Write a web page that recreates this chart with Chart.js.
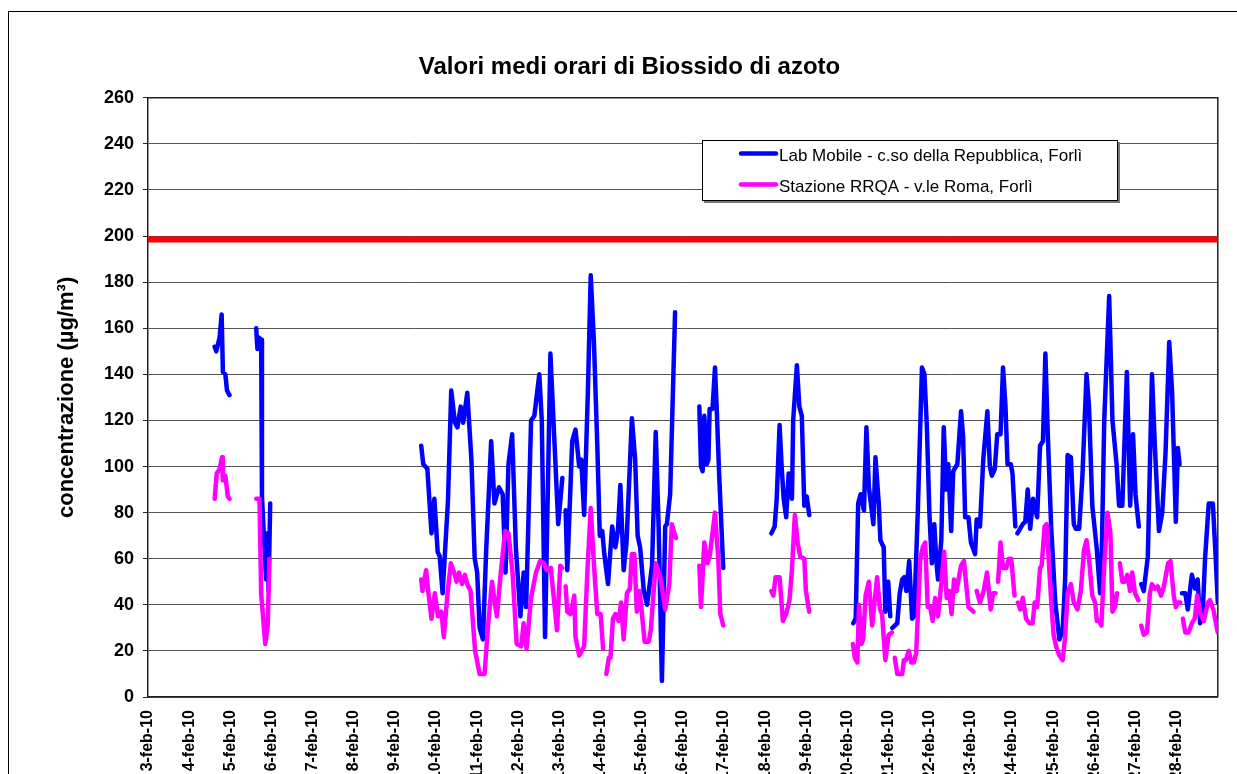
<!DOCTYPE html>
<html lang="it">
<head>
  <meta charset="UTF-8">
  <title>Valori medi orari di Biossido di azoto</title>
  <script src="https://cdn.jsdelivr.net/npm/chart.js"></script>
  <style>
    html, body { margin: 0; padding: 0; overflow: hidden; background: #fff; }
    #cornice {
      position: absolute; left: 8px; top: 11px;
      width: 1241px; height: 790px;
      border: 1px solid #000; background: #fff;
    }
  </style>
</head>
<body>

<div id="cornice">
  <canvas id="grafico"></canvas>
</div>

<script>
// etichette asse x (un giorno per tacca, giorno 0 = 3-feb-10)
const etichetteGiorni = [
  "3-feb-10", "4-feb-10", "5-feb-10", "6-feb-10", "7-feb-10", "8-feb-10", "9-feb-10",
  "10-feb-10", "11-feb-10", "12-feb-10", "13-feb-10", "14-feb-10", "15-feb-10", "16-feb-10",
  "17-feb-10", "18-feb-10", "19-feb-10", "20-feb-10", "21-feb-10", "22-feb-10", "23-feb-10",
  "24-feb-10", "25-feb-10", "26-feb-10", "27-feb-10", "28-feb-10"
];

// Lab Mobile - c.so della Repubblica (null = dato mancante)
const labGiorni = [
  1.62, 1.66, 1.74, 1.79, 1.82, 1.88, 1.92, 1.98, null,
  2.63, 2.66, 2.69, 2.75, 2.77, 2.87, 2.91, 2.93, 2.97, null,
  6.64, 6.69, 6.79, 6.89, 6.96, 7.04, 7.09, 7.16, 7.29, 7.37, 7.46, 7.52, 7.60, 7.66, 7.76, 7.86, 7.94, 8.00, 8.06, 8.14,
  8.22, 8.34, 8.42, 8.53, 8.62, 8.69, 8.76, 8.85, 8.94, 9.05, 9.13, 9.19, 9.31, 9.39, 9.51, 9.57, 9.65, 9.78, 9.87, 9.97, 10.07, null,
  10.15, 10.19, 10.31, 10.39, 10.48, 10.53, 10.60, 10.69, 10.76, 10.84, 10.92, 10.98, 11.04, 11.09, 11.18, 11.28, 11.36, 11.42,
  11.48, 11.56, 11.63, 11.76, 11.84, 11.90, 11.96, 12.05, 12.13, 12.25, 12.34, 12.41, 12.49, 12.57, 12.61, 12.69, 12.81, null,
  13.40, 13.44, 13.48, 13.52, 13.58, 13.62, 13.65, 13.72, 13.78, 13.82, 13.88, 13.98, null,
  15.15, 15.23, 15.28, 15.35, 15.40, 15.45, 15.51, 15.57, 15.65, 15.68, 15.77, 15.83, 15.89, 15.95, 16.01, 16.07, null,
  17.14, 17.20, 17.26, 17.32, 17.40, 17.46, 17.52, 17.63, 17.68, 17.76, 17.80, 17.88, 17.92, 17.99, 18.04, null,
  18.09, 18.21, 18.27, 18.33, 18.38, 18.43, 18.50, 18.57, 18.62, 18.71, 18.81, 18.87, 18.93, 18.99, 19.05, 19.11, 19.16, 19.20,
  19.28, 19.34, 19.40, 19.45, 19.52, 19.57, 19.67, 19.76, 19.81, 19.86, 19.94, 20.00, 20.10, 20.14, 20.22, 20.30, 20.40, 20.46,
  20.51, 20.58, 20.64, 20.72, 20.78, 20.84, 20.89, 20.97, 21.01, 21.08, null,
  21.13, 21.26, 21.32, 21.38, 21.44, 21.51, 21.61, 21.68, 21.75, 21.81, 21.87, 21.95, 22.05, 22.15, 22.23, 22.29, 22.35, 22.43,
  22.50, 22.55, 22.63, 22.71, 22.81, 22.87, 22.95, 23.02, 23.06, 23.14, 23.17, 23.24, 23.36, 23.44, 23.54, 23.60, 23.68, 23.79,
  23.87, 23.94, 24.00, 24.08, null,
  24.14, 24.20, 24.30, 24.40, 24.47, 24.57, 24.65, 24.73, 24.82, 24.89, 24.98, 25.03, 25.07, null,
  25.13, 25.21, 25.27, 25.37, 25.45, 25.51, 25.57, 25.63, 25.69, 25.78, 25.88, 25.95, 26.00
];
const labValori = [
  152, 150, 156, 166, 141, 140, 133, 131, null,
  160, 151, 156, 155, 87, 51, 71, 46, 84, null,
  109, 101, 99, 71, 86, 63, 61, 45, 85, 133, 119, 117, 126, 119, 132, 103, 60, 54, 30, 25,
  64, 111, 84, 91, 88, 54, 101, 114, 65, 35, 54, 39, 120, 122, 140, 120, 26, 149, 114, 75, 95, null,
  81, 55, 111, 116, 100, 103, 79, 132, 183, 153, 109, 70, 72, 62, 49, 74, 65, 72,
  92, 55, 67, 121, 103, 70, 65, 46, 40, 57, 115, 74, 7, 74, 75, 88, 167, null,
  126, 100, 98, 122, 101, 103, 125, 125, 143, 126, 97, 56, null,
  71, 74, 86, 118, 100, 86, 78, 97, 86, 120, 144, 126, 122, 83, 87, 79, null,
  32, 34, 84, 88, 81, 117, 91, 75, 104, 84, 68, 65, 37, 50, 35, null,
  30, 32, 45, 51, 52, 46, 59, 34, 35, 81, 143, 140, 117, 80, 58, 75, 59, 51,
  68, 117, 90, 101, 72, 98, 101, 124, 113, 78, 78, 67, 62, 77, 74, 103, 124, 100,
  96, 99, 114, 114, 143, 126, 101, 101, 97, 74, null,
  71, 75, 76, 90, 73, 86, 78, 109, 111, 149, 113, 74, 41, 25, 29, 51, 105, 104,
  75, 73, 73, 96, 140, 126, 83, 71, 64, 45, 52, 120, 174, 120, 101, 83, 83, 141,
  83, 114, 88, 74, null,
  49, 46, 61, 140, 109, 72, 80, 106, 154, 132, 76, 108, 101, null,
  45, 45, 38, 53, 47, 51, 32, 35, 60, 84, 84, 60, 41
];

// Stazione RRQA - v.le Roma
const rrqaGiorni = [
  1.62, 1.67, 1.74, 1.80, 1.82, 1.88, 1.94, 1.98, null,
  2.63, 2.71, 2.75, 2.85, 2.91, 2.95, null,
  6.64, 6.67, 6.76, 6.81, 6.89, 6.97, 7.05, 7.13, 7.19, 7.28, 7.36, 7.44, 7.50, 7.56, 7.63, 7.70, 7.76, 7.84, 7.95, 8.06,
  8.18, 8.26, 8.36, 8.42, 8.48, 8.58, 8.68, 8.76, 8.86, 8.96, 9.07, 9.13, 9.20, 9.31, 9.43, 9.53, 9.63, 9.69, 9.79, 9.94,
  10.02, 10.07, null,
  10.15, 10.19, 10.27, 10.36, 10.39, 10.48, 10.60, 10.68, 10.76, 10.84, 10.92, 11.00, 11.06, null,
  11.14, 11.20, 11.24, 11.30, 11.36, 11.44, 11.50, 11.56, 11.64, 11.71, 11.76, 11.82, 11.88, 11.95, 12.07, 12.17, 12.22, 12.34,
  12.45, 12.57, 12.67, 12.73, 12.83, null,
  13.40, 13.44, 13.52, 13.60, 13.65, 13.78, 13.86, 13.91, 13.98, null,
  15.15, 15.20, 15.25, 15.35, 15.43, 15.51, 15.59, 15.65, 15.72, 15.79, 15.85, 15.95, 15.99, 16.07, null,
  17.13, 17.18, 17.24, 17.28, 17.34, 17.38, 17.44, 17.52, 17.60, 17.72, 17.79, 17.84, 17.92, 18.00, 18.08, null,
  18.15, 18.21, 18.33, 18.37, 18.42, 18.49, 18.55, 18.61, 18.67, 18.77, 18.83, 18.89, 18.95, 19.01, 19.07, 19.13, 19.20, 19.28,
  19.35, 19.41, 19.47, 19.53, 19.59, 19.65, 19.76, 19.83, 19.94, 20.00, 20.06, null,
  20.14, 20.22, 20.31, 20.39, 20.48, 20.54, 20.60, null,
  20.66, 20.72, 20.78, 20.86, 20.92, 20.98, 21.06, null,
  21.14, 21.20, 21.26, 21.34, 21.42, 21.50, 21.55, 21.61, 21.68, 21.72, 21.79, 21.84, 21.91, 21.96, 22.01, 22.07, 22.15, 22.23,
  22.29, 22.35, 22.43, 22.50, 22.59, 22.67, 22.75, 22.81, 22.87, 22.95, 23.02, 23.06, 23.12, 23.17, 23.24, 23.32, 23.39, 23.44,
  23.50, 23.55, null,
  23.62, 23.68, 23.74, 23.80, 23.87, 23.92, 23.99, 24.07, null,
  24.14, 24.20, 24.28, 24.35, 24.40, 24.47, 24.54, 24.62, 24.69, 24.79, 24.85, 24.93, 24.98, 25.03, 25.09, null,
  25.15, 25.21, 25.29, 25.37, 25.44, 25.50, 25.58, 25.66, 25.76, 25.81, 25.89, 26.00
];
const rrqaValori = [
  86, 97, 99, 104, 94, 96, 87, 86, null,
  86, 86, 45, 23, 31, 60, null,
  51, 46, 55, 46, 34, 45, 35, 37, 26, 45, 58, 54, 50, 54, 49, 53, 49, 46, 20, 10,
  10, 30, 50, 42, 35, 55, 72, 71, 54, 23, 22, 32, 21, 43, 54, 59, 58, 55, 56, 29,
  57, 56, null,
  48, 37, 36, 44, 26, 18, 22, 55, 82, 57, 36, 36, 21, null,
  10, 17, 17, 34, 36, 33, 41, 25, 45, 47, 62, 62, 37, 46, 24, 24, 29, 58,
  52, 38, 49, 75, 69, null,
  57, 39, 67, 58, 61, 80, 60, 36, 31, null,
  46, 44, 52, 52, 33, 36, 42, 55, 79, 67, 61, 60, 46, 37, null,
  23, 17, 15, 40, 23, 25, 44, 50, 31, 52, 38, 36, 16, 27, 28, null,
  17, 10, 10, 16, 16, 20, 15, 15, 19, 60, 65, 67, 39, 39, 33, 43, 35, 49,
  63, 43, 46, 36, 51, 46, 57, 59, 39, 38, 37, null,
  46, 41, 46, 54, 38, 45, 45, null,
  50, 67, 56, 56, 60, 60, 44, null,
  41, 38, 43, 34, 32, 32, 41, 39, 56, 57, 74, 75, 54, 39, 27, 22, 18, 16,
  26, 45, 49, 41, 38, 46, 64, 68, 60, 44, 41, 33, 33, 31, 57, 80, 71, 37,
  39, 45, null,
  58, 50, 50, 53, 46, 54, 45, 42, null,
  31, 27, 28, 45, 49, 47, 48, 44, 48, 58, 59, 44, 39, 41, 41, null,
  34, 28, 28, 32, 34, 44, 36, 33, 41, 42, 38, 28
];

// linea rossa del limite orario
const limiteGiorni = [0, 26];
const limiteValori = [198.5, 198.5];

const FONT = '"Liberation Sans", Arial, sans-serif';

function punti(giorni, valori) {
  const out = [];
  let ultimo = 0;
  giorni.forEach((g, i) => {
    if (g === null) {
      out.push({ x: ultimo, y: null });
      return;
    }
    ultimo = g;
    out.push({ x: g, y: valori[i] });
  });
  return out;
}

// bordo del riquadro del grafico (lati alto e destro)
const bordoArea = {
  id: 'bordoArea',
  beforeDatasetsDraw(chart) {
    const { ctx, chartArea: a } = chart;
    ctx.save();
    ctx.strokeStyle = '#222';
    ctx.lineWidth = 1.5;
    ctx.beginPath();
    ctx.moveTo(a.left, a.top);
    ctx.lineTo(a.right, a.top);
    ctx.lineTo(a.right, a.bottom);
    ctx.stroke();
    ctx.restore();
  }
};

// legenda nel riquadro in alto a destra
const legendaBox = {
  id: 'legendaBox',
  afterDraw(chart) {
    const { ctx } = chart;
    ctx.save();
    ctx.fillStyle = '#777';
    ctx.fillRect(695, 130, 416, 61);
    ctx.fillStyle = '#fff';
    ctx.fillRect(693, 128, 416, 61);
    ctx.strokeStyle = '#000';
    ctx.lineWidth = 1;
    ctx.strokeRect(693.5, 128.5, 415, 60);
    ctx.font = '17px ' + FONT;
    ctx.textBaseline = 'middle';
    chart.data.datasets.slice(0, 2).forEach((ds, i) => {
      const y = 141.5 + i * 31;
      ctx.strokeStyle = ds.borderColor;
      ctx.lineWidth = 4.5;
      ctx.lineCap = 'round';
      ctx.beginPath();
      ctx.moveTo(732, y);
      ctx.lineTo(767, y);
      ctx.stroke();
      ctx.fillStyle = '#000';
      ctx.fillText(ds.label, 770, y + 3);
    });
    ctx.restore();
  }
};

new Chart(document.getElementById('grafico'), {
  type: 'line',
  data: {
    datasets: [
      {
        label: 'Lab Mobile - c.so della Repubblica, Forlì',
        data: punti(labGiorni, labValori),
        borderColor: '#0000ff',
        borderWidth: 4.5,
        order: 1
      },
      {
        label: 'Stazione RRQA - v.le Roma, Forlì',
        data: punti(rrqaGiorni, rrqaValori),
        borderColor: '#ff00ff',
        borderWidth: 4.5,
        order: 0
      },
      {
        label: 'Limite',
        data: punti(limiteGiorni, limiteValori),
        borderColor: '#ff0000',
        borderWidth: 6,
        order: 2
      }
    ]
  },
  options: {
    responsive: true,
    maintainAspectRatio: false,
    animation: false,
    spanGaps: false,
    layout: { padding: 0 },
    elements: {
      point: { radius: 0, hoverRadius: 0 },
      line: { tension: 0, borderJoinStyle: 'round', borderCapStyle: 'round' }
    },
    plugins: {
      legend: { display: false },
      tooltip: { enabled: false },
      title: {
        display: true,
        text: 'Valori medi orari di Biossido di azoto',
        color: '#000',
        font: { family: FONT, size: 24, weight: 'bold' },
        padding: { top: 41, bottom: 16 }
      }
    },
    scales: {
      x: {
        type: 'linear',
        min: 0,
        max: 26,
        grid: { display: false, drawTicks: false },
        border: { display: true, color: '#222', width: 1.5 },
        ticks: {
          stepSize: 1,
          autoSkip: false,
          minRotation: 90,
          maxRotation: 90,
          padding: 13,
          color: '#000',
          font: { family: FONT, size: 16, weight: 'bold' },
          callback: v => etichetteGiorni[v] || ''
        },
        afterFit(s) { s.height = 105; }
      },
      y: {
        min: 0,
        max: 260,
        grid: {
          color: c => (c.tick && c.tick.value % 20 === 0) ? '#555' : 'rgba(0,0,0,0)',
          tickColor: '#222',
          tickLength: 5,
          lineWidth: 1
        },
        border: { display: true, color: '#222', width: 1.5 },
        ticks: {
          stepSize: 10,
          padding: 9,
          color: '#000',
          font: { family: FONT, size: 18, weight: 'bold' },
          callback: v => v % 20 === 0 ? v : ''
        },
        title: {
          display: true,
          text: 'concentrazione (µg/m³)',
          color: '#000',
          font: { family: FONT, size: 22, weight: 'bold' },
          padding: { top: 45, bottom: 0 }
        },
        afterFit(s) { s.width = 139; }
      },
      destra: {
        type: 'linear',
        position: 'right',
        min: 0,
        max: 1,
        grid: { display: false, drawTicks: false },
        border: { display: false },
        ticks: { display: false },
        afterFit(s) { s.width = 26; }
      }
    }
  },
  plugins: [bordoArea, legendaBox]
});
</script>
</body>
</html>
